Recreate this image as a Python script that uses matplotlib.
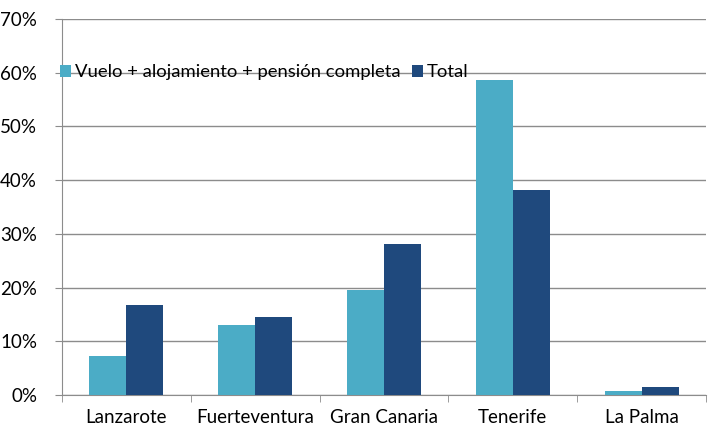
import numpy as np
import matplotlib.pyplot as plt
from matplotlib.ticker import FuncFormatter, FixedLocator

# data
islands = ["Lanzarote", "Fuerteventura", "Gran Canaria", "Tenerife", "La Palma"]
paquete = [7.2, 13.1, 19.6, 58.7, 0.7]
total = [16.7, 14.5, 28.2, 38.2, 1.4]
series_names = ["Vuelo + alojamiento + pensión completa", "Total"]

plt.rcParams['font.family'] = ['Lato', 'DejaVu Sans']

fig = plt.figure(figsize=(7.09, 4.30), dpi=100)
ax = fig.add_axes([62/709, 35/430, 644/709, 376/430])

x = np.arange(len(islands))
w = 0.287
ax.bar(x - w/2, paquete, w, color="#4BACC6", label=series_names[0], zorder=3)
ax.bar(x + w/2, total, w, color="#1F497D", label=series_names[1], zorder=3)

ax.set_xlim(-0.5, len(islands) - 0.5)
ax.set_ylim(0, 70)
ax.set_yticks(np.arange(0, 71, 10))
ax.yaxis.set_major_formatter(FuncFormatter(lambda v, p: f"{v:.0f}%"))
ax.yaxis.grid(True, color="#8c8c8c", linewidth=1, zorder=0)

ax.set_xticks(x)
ax.set_xticklabels(islands)
ax.xaxis.set_minor_locator(FixedLocator(np.arange(-0.5, len(islands), 1)))
ax.tick_params(axis="x", which="major", length=0, pad=10, labelsize=13.5)
ax.tick_params(axis="x", which="minor", length=5, color="#8c8c8c")
ax.tick_params(axis="y", length=5, color="#8c8c8c", labelsize=13.5, pad=13)

for s in ["top", "right"]:
    ax.spines[s].set_visible(False)
for s in ["left", "bottom"]:
    ax.spines[s].set_color("#8c8c8c")

ax.legend(loc="center left", bbox_to_anchor=(-0.003, 0.858), frameon=False,
          ncol=2, fontsize=13.3, handlelength=0.6, handleheight=0.6,
          handletextpad=0.2, columnspacing=0.6, borderaxespad=0, borderpad=0)

fig.savefig("out.png", dpi=100)
